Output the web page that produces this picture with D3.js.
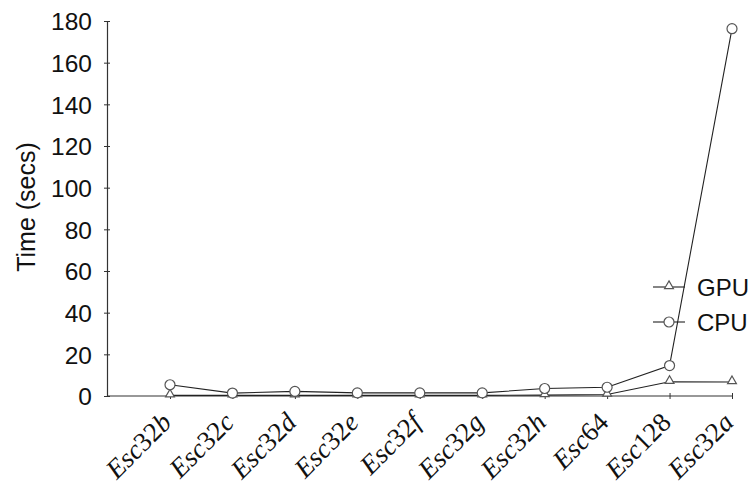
<!DOCTYPE html>
<html>
<head>
<meta charset="utf-8">
<script src="https://cdn.jsdelivr.net/npm/d3@7"></script>
<style>
  html, body { margin: 0; padding: 0; background: #fff; }
  svg { display: block; }
</style>
</head>
<body>
<svg id="chart" width="751" height="487"></svg>
<script>
// Instance names and run times (seconds)
const instances = ["Esc32b", "Esc32c", "Esc32d", "Esc32e", "Esc32f", "Esc32g", "Esc32h", "Esc64", "Esc128", "Esc32a"];
const gpuTimes = [0.3, 0.3, 0.3, 0.3, 0.3, 0.3, 0.4, 0.7, 6.8, 6.7];
const cpuTimes = [5.4, 1.4, 2.2, 1.5, 1.5, 1.5, 3.6, 4.2, 14.6, 176.3];
const yTicks = [0, 20, 40, 60, 80, 100, 120, 140, 160, 180];

const svg = d3.select("#chart");
const sansFont = "'Liberation Sans', Arial, sans-serif";
const ink = "#111";

const axisX = 107;
const x = d3.scalePoint().domain(instances).range([170, 732]);
const y = d3.scaleLinear().domain([0, 180]).range([396, 21]);

// Y axis
const yAxis = svg.append("g")
  .attr("transform", `translate(${axisX},0)`)
  .call(d3.axisLeft(y).tickValues(yTicks).tickSizeOuter(0).tickSizeInner(3).tickPadding(12));
yAxis.select(".domain").attr("stroke", "#333").attr("stroke-width", 1.2);
yAxis.selectAll(".tick line").attr("x1", -3).attr("x2", 3).attr("stroke", "#333");
yAxis.selectAll(".tick text")
  .attr("font-family", sansFont).attr("font-size", 24.5).attr("fill", ink).attr("dy", "0.36em");

// X axis
const xAxis = svg.append("g")
  .attr("transform", `translate(0,${y(0)})`)
  .call(d3.axisBottom(x).tickSizeOuter(0).tickSizeInner(3).tickFormat(""));
xAxis.select(".domain").remove();
xAxis.selectAll(".tick line").attr("y1", -3).attr("y2", 3).attr("stroke", "#333");
svg.append("line")
  .attr("x1", axisX).attr("x2", x(instances[instances.length - 1]))
  .attr("y1", y(0)).attr("y2", y(0))
  .attr("stroke", "#333").attr("stroke-width", 1.2);

// Rotated math-italic instance names (digits upright)
const labels = svg.append("g").selectAll("text").data(instances).join("text")
  .attr("transform", d => `translate(${x(d) + 3},${y(0) + 28}) rotate(-45)`)
  .attr("text-anchor", "end")
  .attr("font-family", "'Liberation Serif', 'Times New Roman', serif")
  .attr("font-size", 27)
  .attr("fill", ink);
labels.each(function(d) {
  const t = d3.select(this);
  d.match(/[0-9]+|[^0-9]+/g).forEach(p => {
    t.append("tspan").text(p).attr("font-style", /[0-9]/.test(p) ? "normal" : "italic");
  });
});

// Y axis title
svg.append("text")
  .attr("transform", `translate(35,207) rotate(-90)`)
  .attr("text-anchor", "middle")
  .attr("font-family", sansFont).attr("font-size", 25).attr("fill", ink)
  .text("Time (secs)");

// Series
const line = d3.line().x((d, i) => x(instances[i])).y(d => y(d));
const triangle = d3.symbol().type(d3.symbolTriangle).size(34);

svg.append("path").datum(gpuTimes).attr("d", line)
  .attr("fill", "none").attr("stroke", "#222").attr("stroke-width", 1.1);
svg.append("path").datum(cpuTimes).attr("d", line)
  .attr("fill", "none").attr("stroke", "#222").attr("stroke-width", 1.1);

svg.append("g").selectAll("path").data(gpuTimes).join("path")
  .attr("d", triangle)
  .attr("transform", (d, i) => `translate(${x(instances[i])},${y(d) - 1})`)
  .attr("fill", "#fff").attr("stroke", "#555").attr("stroke-width", 1.2);
svg.append("g").selectAll("circle").data(cpuTimes).join("circle")
  .attr("cx", (d, i) => x(instances[i])).attr("cy", d => y(d)).attr("r", 5)
  .attr("fill", "#fff").attr("stroke", "#555").attr("stroke-width", 1.2);

// Legend
const legend = [
  { name: "GPU", shape: "triangle", yPos: 287 },
  { name: "CPU", shape: "circle", yPos: 322 }
];
const lg = svg.append("g").selectAll("g").data(legend).join("g")
  .attr("transform", d => `translate(653,${d.yPos})`);
lg.append("line").attr("x1", 0).attr("x2", 32).attr("stroke", "#222").attr("stroke-width", 1.1);
lg.filter(d => d.shape === "triangle").append("path")
  .attr("d", triangle).attr("transform", "translate(16,-1)")
  .attr("fill", "#fff").attr("stroke", "#555").attr("stroke-width", 1.2);
lg.filter(d => d.shape === "circle").append("circle")
  .attr("cx", 16).attr("r", 5)
  .attr("fill", "#fff").attr("stroke", "#555").attr("stroke-width", 1.2);
lg.append("text").attr("x", 44).attr("dy", "0.36em")
  .attr("font-family", sansFont).attr("font-size", 24).attr("fill", ink)
  .text(d => d.name);
</script>
</body>
</html>
